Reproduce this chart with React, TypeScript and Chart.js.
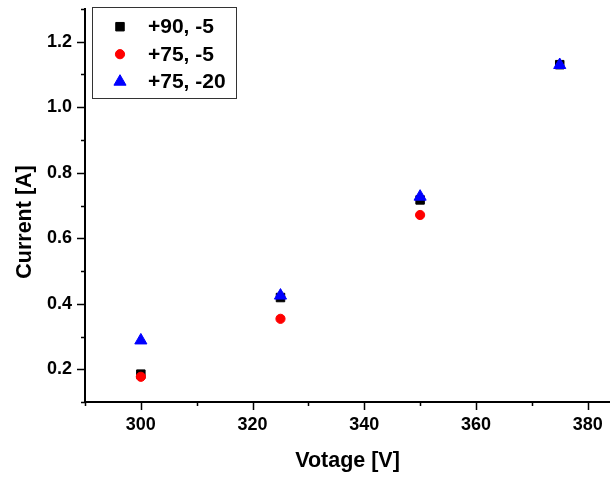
import React, { useEffect, useRef } from "react";
import { Chart, registerables } from "chart.js";
import { drawPoint } from "chart.js/helpers";

Chart.register(...registerables);

const seriesLabels = ["+90, -5", "+75, -5", "+75, -20"];
const voltages = [300, 325, 350, 375];
const current90m5 = [0.185, 0.419, 0.717, 1.13];
// the +75/-5 value at 375 V is not visible in the source (hidden/absent)
const current75m5: (number | null)[] = [0.177, 0.354, 0.671, null];
const current75m20 = [0.288, 0.425, 0.727, 1.129];
const xMajorTicks = [300, 320, 340, 360, 380];
const xMinorTicks = [290, 310, 330, 350, 370];
const yMajorTicks = [0.2, 0.4, 0.6, 0.8, 1.0, 1.2];
const yMinorTicks = [0.1, 0.3, 0.5, 0.7, 0.9, 1.1, 1.3];
const xTitle = "Votage [V]";
const yTitle = "Current [A]";

const FONT = 'Arial, "Liberation Sans", sans-serif';

const toPoints = (ys: (number | null)[]) =>
  voltages.map((x, i) => ({ x, y: ys[i] })).filter((p) => p.y !== null);

const tickMarksPlugin = {
  id: "tickMarks",
  afterDraw(chart: any) {
    const ctx = chart.ctx;
    const xs = chart.scales.x;
    const ys = chart.scales.y;
    const axisX = chart.chartArea.left;
    const axisY = chart.chartArea.bottom;
    ctx.save();
    ctx.strokeStyle = "#000";
    ctx.lineWidth = 1.5;
    ctx.beginPath();
    yMajorTicks.forEach((v) => {
      const p = Math.round(ys.getPixelForValue(v)) + 0.5;
      ctx.moveTo(axisX - 8, p);
      ctx.lineTo(axisX, p);
    });
    yMinorTicks.forEach((v) => {
      const p = Math.round(ys.getPixelForValue(v)) + 0.5;
      ctx.moveTo(axisX - 4, p);
      ctx.lineTo(axisX, p);
    });
    xMajorTicks.forEach((v) => {
      const p = Math.round(xs.getPixelForValue(v)) + 0.5;
      ctx.moveTo(p, axisY);
      ctx.lineTo(p, axisY + 8);
    });
    xMinorTicks.forEach((v) => {
      const p = Math.round(xs.getPixelForValue(v)) + 0.5;
      ctx.moveTo(p, axisY);
      ctx.lineTo(p, axisY + 4);
    });
    ctx.stroke();

    // y-axis title
    ctx.fillStyle = "#000";
    ctx.font = `bold 21.5px ${FONT}`;
    ctx.textAlign = "center";
    ctx.textBaseline = "middle";
    ctx.translate(25, 222);
    ctx.rotate(-Math.PI / 2);
    ctx.fillText(yTitle, 0, 0);
    ctx.restore();
  },
};

const boxLegendPlugin = {
  id: "boxLegend",
  afterDatasetsDraw(chart: any) {
    const ctx = chart.ctx;
    const bx = chart.chartArea.left + 7;
    const by = 7;
    const bw = 144;
    const bh = 91;
    ctx.save();
    ctx.fillStyle = "#fff";
    ctx.fillRect(bx, by, bw, bh);
    ctx.strokeStyle = "#333";
    ctx.lineWidth = 1;
    ctx.strokeRect(bx + 0.5, by + 0.5, bw, bh);
    chart.data.datasets.forEach((ds: any, i: number) => {
      const cy = by + 19.7 + i * 27.5;
      ctx.fillStyle = ds.backgroundColor;
      ctx.strokeStyle = ds.borderColor;
      drawPoint(
        ctx,
        { pointStyle: ds.pointStyle, radius: ds.pointRadius, borderWidth: ds.pointBorderWidth, rotation: 0 },
        bx + 28,
        cy
      );
      ctx.fillStyle = "#000";
      ctx.font = `bold 21px ${FONT}`;
      ctx.textAlign = "left";
      ctx.textBaseline = "middle";
      ctx.fillText(ds.label, bx + 56, cy + 1);
    });
    ctx.restore();
  },
};

export default function App() {
  const canvasRef = useRef<HTMLCanvasElement | null>(null);

  useEffect(() => {
    document.body.style.margin = "0";
    const canvas = canvasRef.current;
    if (!canvas) return;
    const chart = new Chart(canvas, {
      type: "scatter",
      data: {
        datasets: [
          {
            label: seriesLabels[0],
            data: toPoints(current90m5),
            pointStyle: "rect",
            pointRadius: 6,
            pointBorderWidth: 1,
            backgroundColor: "#000000",
            borderColor: "#000000",
            order: 3,
          },
          {
            label: seriesLabels[1],
            data: toPoints(current75m5),
            pointStyle: "circle",
            pointRadius: 4.6,
            pointBorderWidth: 1,
            backgroundColor: "#ff0000",
            borderColor: "#ff0000",
            order: 2,
          },
          {
            label: seriesLabels[2],
            data: toPoints(current75m20),
            pointStyle: "triangle",
            pointRadius: 7,
            pointBorderWidth: 1,
            backgroundColor: "#0000ff",
            borderColor: "#0000ff",
            order: 1,
          },
        ] as any,
      },
      options: {
        animation: false,
        responsive: false,
        devicePixelRatio: 1,
        layout: { autoPadding: false, padding: { top: 9, left: 0, right: 0, bottom: 0 } },
        plugins: {
          legend: { display: false },
          tooltip: { enabled: false },
        },
        scales: {
          x: {
            type: "linear",
            min: 290,
            max: 384,
            grid: { display: true, drawOnChartArea: false, drawTicks: false },
            border: { display: true, color: "#000", width: 2 },
            ticks: {
              padding: 12,
              color: "#000",
              font: { family: FONT, size: 18, weight: "bold" },
              callback: (v: any) => String(v),
            },
            afterBuildTicks: (scale: any) => {
              scale.ticks = xMajorTicks.map((value) => ({ value }));
            },
            afterFit: (scale: any) => {
              scale.height = 75;
              scale.paddingLeft = 0;
              scale.paddingRight = 0;
            },
            title: {
              display: true,
              text: xTitle,
              color: "#000",
              font: { family: FONT, size: 21.5, weight: "bold" },
              padding: { top: 0, bottom: 3 },
            },
          },
          y: {
            type: "linear",
            min: 0.1,
            max: 1.3,
            grid: { display: true, drawOnChartArea: false, drawTicks: false },
            border: { display: true, color: "#000", width: 2 },
            ticks: {
              padding: 13,
              color: "#000",
              font: { family: FONT, size: 18, weight: "bold" },
              callback: (v: any) => Number(v).toFixed(1),
            },
            afterBuildTicks: (scale: any) => {
              scale.ticks = yMajorTicks.map((value) => ({ value }));
            },
            afterFit: (scale: any) => {
              scale.width = 85;
              scale.paddingTop = 0;
              scale.paddingBottom = 0;
            },
          },
        },
      } as any,
      plugins: [tickMarksPlugin, boxLegendPlugin],
    });
    return () => chart.destroy();
  }, []);

  return (
    <div style={{ width: 610, height: 477 }}>
      <canvas ref={canvasRef} width={610} height={477} />
    </div>
  );
}
